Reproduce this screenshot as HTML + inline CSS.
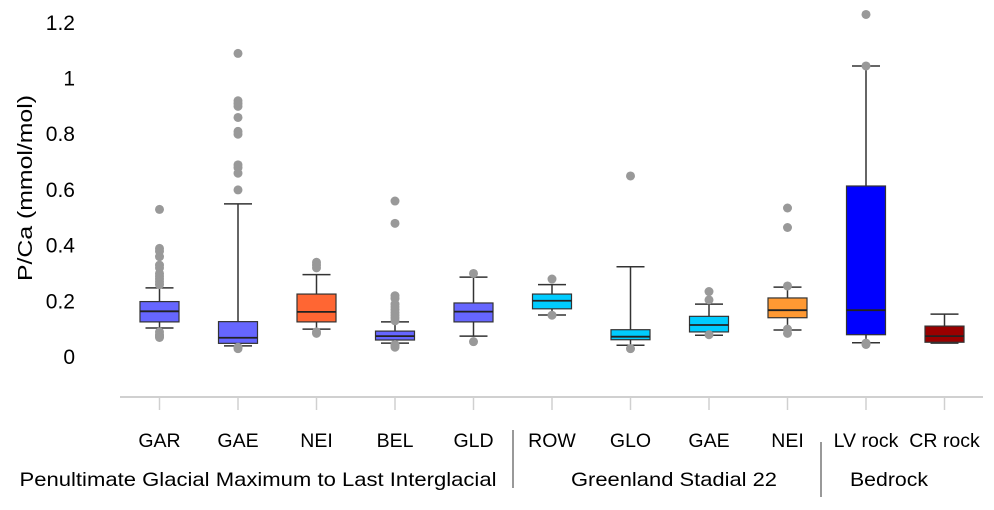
<!DOCTYPE html>
<html><head><meta charset="utf-8"><style>
body{margin:0;background:#fff}
svg text{font-family:"Liberation Sans",sans-serif;fill:#000}
</style></head><body>
<svg width="994" height="505" xmlns="http://www.w3.org/2000/svg">
<g id="plot"></g>
</svg>
<script>
const categories=["GAR","GAE","NEI","BEL","GLD","ROW","GLO","GAE","NEI","LV rock","CR rock"];
const colors=["#6666ff","#6666ff","#ff6633","#6666ff","#6666ff","#00ccff","#00ccff","#00ccff","#ff9933","#0000ff","#990000"];
const q1=[0.126,0.049,0.126,0.061,0.126,0.173,0.062,0.09,0.141,0.08,0.053];
const medians=[0.164,0.069,0.162,0.075,0.163,0.202,0.073,0.115,0.168,0.168,0.075];
const q3=[0.199,0.127,0.226,0.093,0.194,0.226,0.098,0.146,0.212,0.614,0.111];
const whiskLo=[0.104,0.04,0.1,0.05,0.075,0.151,0.042,0.078,0.097,0.051,0.05];
const whiskHi=[0.248,0.55,0.296,0.126,0.287,0.26,0.324,0.19,0.251,1.045,0.154];
const outliers=[
 [0.53,0.39,0.38,0.36,0.33,0.32,0.30,0.29,0.28,0.27,0.26,0.09,0.08,0.075,0.07],
 [1.09,0.92,0.91,0.90,0.86,0.81,0.80,0.69,0.68,0.66,0.60,0.035,0.03],
 [0.34,0.33,0.32,0.09,0.085],
 [0.56,0.48,0.22,0.21,0.19,0.18,0.17,0.16,0.15,0.14,0.13,0.045,0.04,0.035],
 [0.30,0.055],
 [0.28,0.15],
 [0.65,0.03],
 [0.235,0.205,0.08],
 [0.535,0.465,0.255,0.1,0.085],
 [1.23,1.045,0.05,0.045],
 []
];
const yTicks=[0,0.2,0.4,0.6,0.8,1,1.2];
const yTickLabels=["0","0.2","0.4","0.6","0.8","1","1.2"];
const groups=["Penultimate Glacial Maximum to Last Interglacial","Greenland Stadial 22","Bedrock"];

const NS="http://www.w3.org/2000/svg";
const g=document.getElementById('plot');
const y=v=>357-v*278.5;
const x=i=>159.5+i*78.5;
const bw=39;
function mk(tag,attrs,parent){const e=document.createElementNS(NS,tag);for(const k in attrs)e.setAttribute(k,attrs[k]);(parent||g).appendChild(e);return e;}

yTicks.forEach((t,i)=>{
 const e=mk('text',{x:75,y:y(t)+7,'text-anchor':'end','font-size':21});
 e.textContent=yTickLabels[i];
 
 
});
const yt=mk('text',{x:0,y:0,transform:'translate(32,188) rotate(-90)','text-anchor':'middle','font-size':20,textLength:186,lengthAdjust:'spacingAndGlyphs'});
yt.textContent="P/Ca (mmol/mol)";



const ax=mk('line',{x1:120,x2:983,y1:397,y2:397,stroke:'#d0d0d0','stroke-width':2});



categories.forEach((c,i)=>{
 const cx=x(i);
 const tk=mk('line',{x1:cx,x2:cx,y1:397,y2:410,stroke:'#d0d0d0','stroke-width':1.5});
 
 
 const lb=mk('text',{x:cx,y:447,'text-anchor':'middle','font-size':19.5});
 lb.textContent=c;
 
 
 const bg=mk('g',{});
 
 
 mk('line',{x1:cx,x2:cx,y1:y(whiskHi[i]),y2:y(q3[i]),stroke:'#333','stroke-width':1.5},bg);
 mk('line',{x1:cx,x2:cx,y1:y(q1[i]),y2:y(whiskLo[i]),stroke:'#333','stroke-width':1.5},bg);
 mk('line',{x1:cx-14,x2:cx+14,y1:y(whiskHi[i]),y2:y(whiskHi[i]),stroke:'#333','stroke-width':1.5},bg);
 mk('line',{x1:cx-14,x2:cx+14,y1:y(whiskLo[i]),y2:y(whiskLo[i]),stroke:'#333','stroke-width':1.5},bg);
 mk('rect',{x:cx-bw/2,y:y(q3[i]),width:bw,height:y(q1[i])-y(q3[i]),fill:colors[i],stroke:'#333','stroke-width':1.2},bg);
 mk('line',{x1:cx-bw/2,x2:cx+bw/2,y1:y(medians[i]),y2:y(medians[i]),stroke:'#222','stroke-width':1.8},bg);
 outliers[i].forEach(v=>{
  const o=mk('circle',{cx:cx,cy:y(v),r:4.5,fill:'#999'},bg);
  
  
 });
});

const gx=[258,674,889];
const gw=[477,206,78];
groups.forEach((t,i)=>{
 const e=mk('text',{x:gx[i],y:486,'text-anchor':'middle','font-size':19.5,textLength:gw[i],lengthAdjust:'spacingAndGlyphs'});
 e.textContent=t;
 
 
});
[[513,430,488],[821,442,497]].forEach(s=>{
 const l=mk('line',{x1:s[0],x2:s[0],y1:s[1],y2:s[2],stroke:'#333','stroke-width':1});
 
 
});
</script>
</body></html>
